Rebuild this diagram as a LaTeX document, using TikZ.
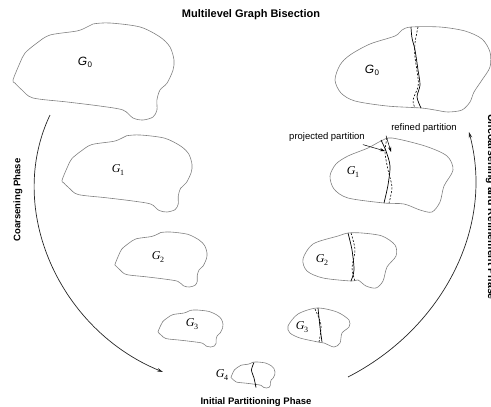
\documentclass[tikz,border=0pt]{standalone}
\usepackage{fontspec}
\setmainfont{Liberation Serif}
\setsansfont{Liberation Sans}
\usetikzlibrary{arrows.meta}
\newcommand\blobtpl{plot[smooth cycle,tension=0.5] coordinates {(0,0.588) (0.043,0.412) (0.075,0.309) (0.149,0.206) (0.230,0.124) (0.398,0.082) (0.460,0.041) (0.497,0.010) (0.602,0) (0.789,0.041) (0.913,0.144) (0.975,0.247) (1,0.381) (0.994,0.485) (0.957,0.619) (0.913,0.691) (0.894,0.794) (0.894,0.897) (0.870,0.969) (0.807,1) (0.745,0.979) (0.683,0.897) (0.540,0.856) (0.335,0.814) (0.124,0.773) (0.056,0.691) (0.012,0.619)}}
\newcommand\glab[1]{\textit{G}\kern-0.2pt\raisebox{-0.4ex}{\fontsize{8}{8}\selectfont #1}}
\newcommand\glabsf[1]{\textsf{\textit{G}}\kern0.3pt\raisebox{-0.4ex}{\fontsize{8}{8}\selectfont\sffamily #1}}
\tikzset{
  blobline/.style={draw=black!50,line width=0.6pt},
  blobat/.style n args={4}{shift={(#1,#2)},xscale=#3,yscale=#4},
  glabel/.style={inner sep=0pt,font=\fontsize{12}{12}\selectfont},
  phase/.style={inner sep=0pt,font=\sffamily\bfseries\fontsize{9.5}{11}\selectfont},
  title/.style={inner sep=0pt,font=\sffamily\bfseries\fontsize{11}{13}\selectfont},
  small/.style={inner sep=0pt,font=\sffamily\fontsize{9.5}{11}\selectfont},
  cutline/.style={line width=0.7pt,black},
  projline/.style={line width=0.6pt,black,dash pattern=on 2pt off 1.6pt},
  phasearc/.style={line width=0.7pt,black!85,-{Stealth[length=6pt,width=3.5pt]}},
  pointer/.style={line width=0.5pt,black,-{Stealth[length=5pt,width=3pt]}}
}
\begin{document}
\begin{tikzpicture}[x=1pt,y=-1pt]
\useasboundingbox (0,0) rectangle (491,407);
\clip (0,0) rectangle (491,407);
% title
\node[title] (title) at (251,15) {Multilevel Graph Bisection};
% left column (coarsening)
\begin{scope}[blobat={13}{23}{161}{97}] \draw[blobline] \blobtpl; \end{scope}
\begin{scope}[blobat={62}{135}{130}{77}] \draw[blobline] \blobtpl; \end{scope}
\begin{scope}[blobat={115}{232}{92}{55}] \draw[blobline] \blobtpl; \end{scope}
\begin{scope}[blobat={158}{310}{65}{37}] \draw[blobline] \blobtpl; \end{scope}
\begin{scope}[blobat={231}{362}{44}{26}] \draw[blobline] \blobtpl; \end{scope}
\node[glabel] (l0) at (85,62) {\glabsf{0}};
\node[glabel] (l1) at (118,170) {\glab{1}};
\node[glabel] (l2) at (158,257) {\glab{2}};
\node[glabel] (l3) at (192,324) {\glab{3}};
\node[glabel] (l4) at (222,375) {\glab{4}};
\draw[cutline] plot[smooth] coordinates {(254,362.5) (251.5,370) (254,378) (256,387.5)};
% right column (uncoarsening)
\draw[blobline] plot[smooth cycle,tension=0.5] coordinates {(335,80) (340,65) (350,55) (370,44) (395,36) (402,30) (411,27) (440,27) (465,31) (482,39) (490,52) (490,67) (482,80) (474,92) (470,102) (462,110) (448,112) (435,110) (421,108) (387,106) (355,101) (341,93)};
\draw[blobline] plot[smooth cycle,tension=0.5] coordinates {(330,176) (336,164) (348,156) (368,148) (381,141) (392,138) (425,146) (447,156) (453,170) (444,186) (440,202) (432,212) (420,210) (404,204) (384,203) (348,198) (334,189)};
\draw[blobline] plot[smooth cycle,tension=0.5] coordinates {(303,259) (313,244) (338,236) (348,233) (362,233) (382,236) (395,245) (396,256) (387,267) (383,281) (376,288) (366,286) (358,280) (351,281) (323,278) (307,271)};
\draw[blobline] plot[smooth cycle,tension=0.5] coordinates {(288,326) (298,314) (317,308) (337,312) (349,320) (349,327) (342,333) (340,343) (334,347) (324,343) (318,342) (300,338) (290,333)};
\node[glabel] (r0) at (372,70) {\glabsf{0}};
\node[glabel] (r1) at (353,172) {\glab{1}};
\node[glabel] (r2) at (322,260) {\glab{2}};
\node[glabel] (r3) at (302,327) {\glab{3}};
% partitions
\draw[cutline] plot[smooth] coordinates {(411,27) (412,38) (415,50) (418,70) (420,85) (417,97) (421,108)};
\draw[projline] plot[smooth] coordinates {(418,27) (415,43) (415,57) (418,78) (418,87) (413,100) (415,108)};
\draw[cutline] plot[smooth] coordinates {(381,140) (386,151) (390,166) (388,185) (384,203)};
\draw[projline] plot[smooth] coordinates {(387,138) (385,152) (388,170) (392,187) (389,203)};
\draw[cutline] plot[smooth] coordinates {(348,233) (352,250) (354,270) (351,281)};
\draw[projline] plot[smooth] coordinates {(351,233) (355,250) (352,268) (355,281)};
\draw[cutline] plot[smooth] coordinates {(318,308) (320,327) (322,342)};
\draw[projline] plot[smooth] coordinates {(315,309) (321,325) (319,342)};
% partition labels
\node[small] (proj) at (327,137) {projected partition};
\node[small] (refi) at (424,128) {refined partition};
\coordinate (projtip) at (385,151);
\coordinate (refitip) at (391,152);
\draw[pointer] (proj.south east) ++(-2,3) coordinate (projstart) -- (projtip);
\draw[pointer] (refi.south west) ++(-5,3) coordinate (refistart) -- (refitip);
% phase arcs
\coordinate (la) at (50,115);
\coordinate (lb) at (163,372);
\draw[phasearc] (la) .. controls (5,210) and (60,330) .. (lb);
\coordinate (ra) at (348,377);
\coordinate (rb) at (469,132);
\draw[phasearc] (ra) .. controls (440,330) and (495,230) .. (rb);
\node[phase,rotate=90] (coarse) at (18,200) {Coarsening Phase};
\node[phase] (init) at (256,402) {Initial Partitioning Phase};
\node[phase,rotate=-90,anchor=base,font=\sffamily\bfseries\fontsize{10.5}{12}\selectfont] (uncoarse) at (488,207) {Uncoarsening and Refinement Phase};
\end{tikzpicture}
\end{document}
